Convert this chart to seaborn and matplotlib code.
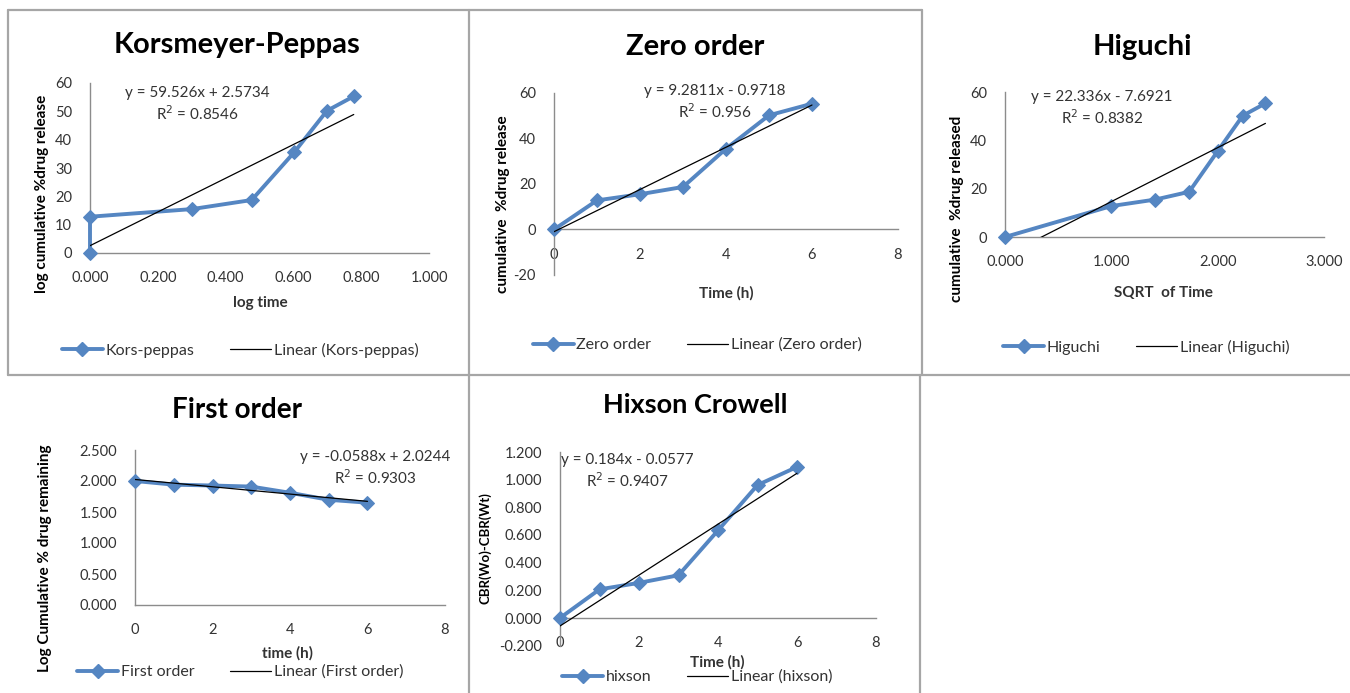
import matplotlib
matplotlib.use("Agg")
import matplotlib.pyplot as plt
import seaborn as sns
from matplotlib.lines import Line2D
from matplotlib.ticker import MultipleLocator, FormatStrFormatter

# ---- release-kinetics data -------------------------------------------------
# Korsmeyer-Peppas: log time vs cumulative % drug release
kp_x = [0.000, 0.000, 0.301, 0.477, 0.602, 0.699, 0.778]
kp_y = [0.0, 12.8, 15.5, 18.7, 35.5, 50.2, 55.3]
kp_fit = (59.526, 2.5734)
kp_eq = ["y = 59.526x + 2.5734", "R$^2$ = 0.8546"]

# Zero order: time (h) vs cumulative % drug release
zo_x = [0, 1, 2, 3, 4, 5, 6]
zo_y = [0.0, 12.8, 15.5, 18.7, 35.5, 50.2, 55.3]
zo_fit = (9.2811, -0.9718)
zo_eq = ["y = 9.2811x - 0.9718", "R$^2$ = 0.956"]

# Higuchi: square root of time vs cumulative % drug released
hg_x = [0.000, 1.000, 1.414, 1.732, 2.000, 2.236, 2.449]
hg_y = [0.0, 12.8, 15.5, 18.7, 35.5, 50.2, 55.3]
hg_fit = (22.336, -7.6921)
hg_eq = ["y = 22.336x - 7.6921", "R$^2$ = 0.8382"]

# First order: time (h) vs log cumulative % drug remaining
fo_x = [0, 1, 2, 3, 4, 5, 6]
fo_y = [2.000, 1.941, 1.927, 1.910, 1.810, 1.697, 1.650]
fo_fit = (-0.0588, 2.0244)
fo_eq = ["y = -0.0588x + 2.0244", "R$^2$ = 0.9303"]

# Hixson-Crowell: time (h) vs cube-root difference
hc_x = [0, 1, 2, 3, 4, 5, 6]
hc_y = [0.000, 0.207, 0.254, 0.309, 0.633, 0.961, 1.092]
hc_fit = (0.184, -0.0577)
hc_eq = ["y = 0.184x - 0.0577", "R$^2$ = 0.9407"]

# ---- styling -----------------------------------------------------------------
sns.set_theme(style="white")
plt.rcParams["font.family"] = ["Lato", "DejaVu Sans"]

W, H = 1350, 693
BLUE = "#5586C2"
AXC = "#8C8C8C"
TXT = "#333333"
BORDER = "#A6A6A6"

fig = plt.figure(figsize=(W / 100, H / 100), dpi=100)
fig.patch.set_facecolor("white")


def fx(px):
    return px / W


def fy(py):
    return 1 - py / H


def panel(box, x, y, fit, x_end, xlim, xstep, xfmt, ylim, ystep, yfmt,
          zero_axis, title, title_xy, title_size, xlabel, xlabel_xy,
          ylabel, ylabel_xy, ylabel_size, eq, eq_xy, legend_names, legend_xy):
    l, t, r, b = box
    ax = fig.add_axes([fx(l), fy(b), fx(r) - fx(l), (b - t) / H])
    ax.set_facecolor("white")

    sns.lineplot(x=x, y=y, ax=ax, color=BLUE, lw=2.8, marker="D",
                 markersize=7, markeredgecolor=BLUE, estimator=None,
                 sort=False, legend=False, clip_on=False, zorder=3)
    a, c = fit
    sns.lineplot(x=[0, x_end], y=[a * 0 + c, a * x_end + c], ax=ax,
                 color="black", lw=0.9, estimator=None, sort=False,
                 legend=False, zorder=4)

    ax.set_xlim(*xlim)
    ax.set_ylim(*ylim)
    ax.xaxis.set_major_locator(MultipleLocator(xstep))
    ax.yaxis.set_major_locator(MultipleLocator(ystep))
    ax.xaxis.set_major_formatter(FormatStrFormatter(xfmt))
    ax.yaxis.set_major_formatter(FormatStrFormatter(yfmt))
    ax.set_xlabel("")
    ax.set_ylabel("")
    ax.grid(False)

    for s in ("top", "right"):
        ax.spines[s].set_visible(False)
    for s in ("left", "bottom"):
        ax.spines[s].set_color(AXC)
        ax.spines[s].set_linewidth(1.0)
        ax.spines[s].set_zorder(1)
    if zero_axis:
        ax.spines["bottom"].set_position(("data", 0))
    ax.tick_params(axis="both", direction="out", length=4, width=0.9,
                   color=AXC, labelsize=10.5, labelcolor=TXT, pad=9)

    fig.text(fx(title_xy[0]), fy(title_xy[1]), title, ha="center",
             va="center", fontsize=title_size, fontweight="bold",
             color="black")
    fig.text(fx(xlabel_xy[0]), fy(xlabel_xy[1]), xlabel, ha="center",
             va="center", fontsize=11, fontweight="bold", color=TXT)
    fig.text(fx(ylabel_xy[0]), fy(ylabel_xy[1]), ylabel, ha="center",
             va="center", rotation=90, fontsize=ylabel_size,
             fontweight="bold", color="black")
    fig.text(fx(eq_xy[0]), fy(eq_xy[1]), eq[0], ha="center", va="center",
             fontsize=11, color=TXT)
    fig.text(fx(eq_xy[0]), fy(eq_xy[1] + 21), eq[1], ha="center",
             va="center", fontsize=11, color=TXT)

    handles = [
        Line2D([], [], color=BLUE, lw=2.8, marker="D", markersize=7,
               markeredgecolor=BLUE),
        Line2D([], [], color="black", lw=0.9),
    ]
    ax.legend(handles, legend_names, loc="center",
              bbox_to_anchor=(fx(legend_xy[0]), fy(legend_xy[1])),
              bbox_transform=fig.transFigure, ncol=2, frameon=False,
              fontsize=11.5, handlelength=2.6, handletextpad=0.15,
              columnspacing=2.2, labelcolor=TXT)
    return ax


panel((90, 83, 429, 253), kp_x, kp_y, kp_fit, 0.778, (0, 1.0), 0.2, "%.3f",
      (0, 60), 10, "%d", False, "Korsmeyer-Peppas", (237, 45), 21,
      "log time", (260, 303), "log cumulative %drug release", (42, 194), 11,
      kp_eq, (197, 93), ["Kors-peppas", "Linear (Kors-peppas)"], (240, 350))

panel((554, 93, 898, 275), zo_x, zo_y, zo_fit, 6, (0, 8), 2, "%d",
      (-20, 60), 20, "%d", True, "Zero order", (695, 47), 21,
      "Time (h)", (726, 293), "cumulative  %drug release", (503, 204), 11,
      zo_eq, (715, 91), ["Zero order", "Linear (Zero order)"], (697, 345))

panel((1005, 92, 1324, 237), hg_x, hg_y, hg_fit, 2.449, (0, 3.0), 1.0,
      "%.3f", (0, 60), 20, "%d", False, "Higuchi", (1142, 47), 21,
      "SQRT  of Time", (1163, 293), "cumulative  %drug released",
      (957, 209), 11, hg_eq, (1102, 97), ["Higuchi", "Linear (Higuchi)"],
      (1146, 347))

panel((135, 450, 445, 605), fo_x, fo_y, fo_fit, 6, (0, 8), 2, "%d",
      (0, 2.5), 0.5, "%.3f", False, "First order", (237, 410), 20,
      "time (h)", (288, 653), "Log Cumulative % drug remaining", (45, 558),
      11, fo_eq, (375, 457), ["First order", "Linear (First order)"],
      (240, 672))

panel((560, 452, 876, 618 + (618 - 452) * 0.2 / 1.2), hc_x, hc_y, hc_fit, 6,
      (0, 8), 2, "%d", (-0.2, 1.2), 0.2, "%.3f", True, "Hixson Crowell",
      (695, 405), 19.5, "Time (h)", (717, 662), "CBR(Wo)-CBR(Wt)", (485, 548),
      9.5, hc_eq, (627, 460), ["hixson", "Linear (hixson)"], (697, 677))

# ---- panel frames ----------------------------------------------------------
segments = [
    ((8, 10), (8, 375)),        # left edge, top-left panel
    ((8, 10), (922, 10)),       # top edge, first two panels
    ((469, 10), (469, 693)),    # divider between first and second column
    ((922, 10), (922, 375)),    # divider between second and third column
    ((8, 375), (1350, 375)),    # divider between rows
    ((920, 375), (920, 693)),   # right edge, bottom-middle panel
]
for (x0, y0), (x1, y1) in segments:
    fig.add_artist(Line2D([fx(x0), fx(x1)], [fy(y0), fy(y1)],
                          transform=fig.transFigure, color=BORDER, lw=1.6))

fig.savefig("out.png", dpi=100, facecolor="white")
